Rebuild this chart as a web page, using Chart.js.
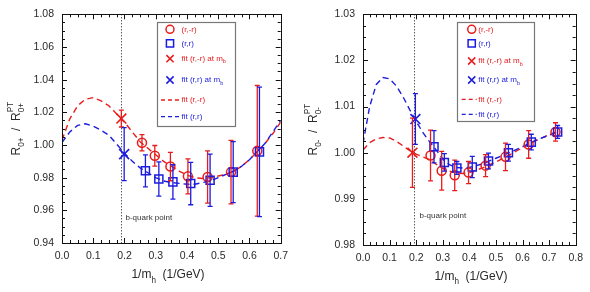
<!DOCTYPE html>
<html><head><meta charset="utf-8">
<script src="https://cdn.jsdelivr.net/npm/chart.js@4"></script>
<style>
html,body{margin:0;padding:0;background:#fff;}
#wrap{position:relative;width:590px;height:292px;overflow:hidden;}
.c{position:absolute;top:0;width:295px;height:292px;}
</style></head><body>
<div id="wrap">
<div class="c" style="left:0"><canvas id="cL" width="295" height="292"></canvas></div>
<div class="c" style="left:295px"><canvas id="cR" width="295" height="292"></canvas></div>
</div>
<script>
// ---------- data: left panel (0+) ----------
const bQuarkX = 0.19;
const leftCircX = [0.256, 0.297, 0.347, 0.403, 0.466, 0.541, 0.625];
const leftCircY = [1.0014, 0.9934, 0.9868, 0.9808, 0.9804, 0.9834, 0.9964];
const leftCircE = [0.0050, 0.0063, 0.0087, 0.0107, 0.0160, 0.0194, 0.0400];
const leftSqX = [0.267, 0.310, 0.355, 0.412, 0.474, 0.548, 0.632];
const leftSqY = [0.9842, 0.9792, 0.9774, 0.9764, 0.9784, 0.9834, 0.9958];
const leftSqE = [0.0098, 0.0105, 0.0105, 0.0130, 0.0160, 0.0187, 0.0396];
const leftFitRedAtMb = [0.190, 1.0162, 0.0052];
const leftFitBlueAtMb = [0.199, 0.9944, 0.0162];
const leftFitX = [0, 0.025, 0.05, 0.075, 0.1, 0.125, 0.15, 0.175, 0.2, 0.225, 0.25, 0.275, 0.3, 0.325, 0.35, 0.375, 0.4, 0.425, 0.45, 0.475, 0.5, 0.525, 0.55, 0.575, 0.6, 0.625, 0.65, 0.675, 0.7];
const leftFitRedY = [1.003, 1.016, 1.024, 1.028, 1.029, 1.027, 1.024, 1.019, 1.014, 1.008, 1.002, 0.998, 0.994, 0.990, 0.987, 0.984, 0.9815, 0.980, 0.9795, 0.980, 0.981, 0.982, 0.984, 0.987, 0.991, 0.996, 1.001, 1.007, 1.014];
const leftFitBlueY = [1.0015, 1.008, 1.012, 1.013, 1.0115, 1.009, 1.006, 1.0005, 0.995, 0.990, 0.986, 0.983, 0.980, 0.978, 0.977, 0.9765, 0.976, 0.976, 0.977, 0.978, 0.980, 0.982, 0.984, 0.987, 0.991, 0.996, 1.001, 1.008, 1.015];
const leftXTicks = [0, 0.1, 0.2, 0.3, 0.4, 0.5, 0.6, 0.7];
const leftXLabels = ['0.0', '0.1', '0.2', '0.3', '0.4', '0.5', '0.6', '0.7'];
const leftYTicks = [0.94, 0.96, 0.98, 1.00, 1.02, 1.04, 1.06, 1.08];
const leftYLabels = ['0.94', '0.96', '0.98', '1.00', '1.02', '1.04', '1.06', '1.08'];

// ---------- data: right panel (0-) ----------
const rightCircX = [0.254, 0.296, 0.345, 0.397, 0.461, 0.536, 0.623, 0.724];
const rightCircY = [0.9994, 0.9961, 0.9951, 0.9957, 0.9972, 0.9991, 1.0018, 1.0045];
const rightCircE = [0.0055, 0.0042, 0.0033, 0.0024, 0.0024, 0.0030, 0.0030, 0.0020];
const rightSqX = [0.267, 0.306, 0.353, 0.411, 0.472, 0.547, 0.633, 0.732];
const rightSqY = [1.0013, 0.9979, 0.9967, 0.9969, 0.9982, 1.0000, 1.0023, 1.0045];
const rightSqE = [0.0035, 0.0019, 0.0014, 0.0023, 0.0017, 0.0018, 0.0017, 0.0014];
const rightFitRedAtMb = [0.186, 1.0000, 0.0075];
const rightFitBlueAtMb = [0.197, 1.0073, 0.0055];
const rightFitX = [0, 0.025, 0.05, 0.075, 0.1, 0.125, 0.15, 0.175, 0.2, 0.225, 0.25, 0.275, 0.3, 0.325, 0.35, 0.375, 0.4, 0.45, 0.5, 0.55, 0.6, 0.65, 0.7, 0.735];
const rightFitRedY = [1.0006, 1.0022, 1.0030, 1.0033, 1.0032, 1.0025, 1.0015, 1.0005, 0.9997, 0.9991, 0.9985, 0.9975, 0.9966, 0.9960, 0.9956, 0.9955, 0.9957, 0.9967, 0.9980, 0.9995, 1.0011, 1.0026, 1.0039, 1.0047];
const rightFitBlueY = [1.0020, 1.0100, 1.0148, 1.0163, 1.0160, 1.0145, 1.0122, 1.0094, 1.0068, 1.0044, 1.0024, 1.0006, 0.9986, 0.9974, 0.9968, 0.9967, 0.9968, 0.9976, 0.9988, 1.0000, 1.0013, 1.0027, 1.0038, 1.0046];
const rightXTicks = [0, 0.1, 0.2, 0.3, 0.4, 0.5, 0.6, 0.7, 0.8];
const rightXLabels = ['0.0', '0.1', '0.2', '0.3', '0.4', '0.5', '0.6', '0.7', '0.8'];
const rightYTicks = [0.98, 0.99, 1.00, 1.01, 1.02, 1.03];
const rightYLabels = ['0.98', '0.99', '1.00', '1.01', '1.02', '1.03'];

const legendTexts = ['(r,-r)', '(r,r)', 'fit (r,-r) at m', 'fit (r,r) at m', 'fit (r,-r)', 'fit (r,r)'];

// ---------- styling ----------
const RED = 'rgb(232,28,28)';
const BLUE = 'rgb(28,28,222)';
const FONT = '"Liberation Sans", Arial, Helvetica, sans-serif';
const TXT = '#2a2a2a';

function pts(xs, ys) { return xs.map((x, i) => ({ x: x, y: ys[i] })); }

function drawMarker(ctx, style, x, y, r, color) {
  ctx.save();
  ctx.strokeStyle = color; ctx.lineWidth = 1.5; ctx.setLineDash([]);
  ctx.beginPath();
  if (style === 'circle') { ctx.arc(x, y, r, 0, Math.PI * 2); }
  else if (style === 'rect') { ctx.rect(x - r, y - r, 2 * r, 2 * r); }
  else { ctx.moveTo(x - r, y - r); ctx.lineTo(x + r, y + r); ctx.moveTo(x - r, y + r); ctx.lineTo(x + r, y - r); }
  ctx.stroke();
  ctx.restore();
}

// parts: [text, mode] mode 0 normal, -1 subscript, 1 superscript, 2 superscript stacked over previous subscript
function drawRich(ctx, parts, x, y, size, align) {
  const sub = size * 0.68;
  const fontOf = p => (p[1] ? sub : size) + 'px ' + FONT;
  const widths = parts.map(p => { ctx.font = fontOf(p); return ctx.measureText(p[0]).width; });
  let w = 0, prevStart = 0, prevW = 0;
  parts.forEach((p, i) => {
    if (p[1] === 2) { w = Math.max(w, prevStart + widths[i]); }
    else { prevStart = w; prevW = widths[i]; w += widths[i]; }
  });
  let cx = align === 'center' ? x - w / 2 : x;
  let lastStart = cx;
  parts.forEach((p, i) => {
    ctx.font = fontOf(p);
    if (p[1] === 2) {
      ctx.fillText(p[0], lastStart, y - size * 0.55);
    } else {
      const dy = p[1] === -1 ? size * 0.38 : (p[1] === 1 ? -size * 0.55 : 0);
      ctx.fillText(p[0], cx, y + dy);
      lastStart = cx;
      cx += widths[i];
    }
  });
}

function makePanel(id, P) {
  const errorSets = [
    { xs: P.circX, ys: P.circY, es: P.circE, color: RED },
    { xs: P.sqX, ys: P.sqY, es: P.sqE, color: BLUE },
    { xs: [P.redMb[0]], ys: [P.redMb[1]], es: [P.redMb[2]], color: RED },
    { xs: [P.blueMb[0]], ys: [P.blueMb[1]], es: [P.blueMb[2]], color: BLUE }
  ];
  const plugin = {
    id: 'deco',
    beforeDatasetsDraw(chart) {
      const ctx = chart.ctx, a = chart.chartArea, xs = chart.scales.x;
      ctx.save();
      ctx.strokeStyle = '#111'; ctx.lineWidth = 1; ctx.setLineDash([1, 2]);
      const px = Math.round(xs.getPixelForValue(bQuarkX)) + 0.5;
      ctx.beginPath(); ctx.moveTo(px, a.top); ctx.lineTo(px, a.bottom); ctx.stroke();
      ctx.restore();
      ctx.save();
      ctx.fillStyle = '#333'; ctx.font = '8px ' + FONT; ctx.textBaseline = 'middle';
      ctx.fillText('b-quark point', px + P.bqDx, P.bqY);
      ctx.restore();
    },
    afterDatasetsDraw(chart) {
      const ctx = chart.ctx, xs = chart.scales.x, ys = chart.scales.y;
      ctx.save();
      ctx.lineWidth = 1.3; ctx.setLineDash([]);
      errorSets.forEach(s => {
        ctx.strokeStyle = s.color;
        s.xs.forEach((x, i) => {
          const px = xs.getPixelForValue(x);
          const y1 = ys.getPixelForValue(s.ys[i] + s.es[i]);
          const y2 = ys.getPixelForValue(s.ys[i] - s.es[i]);
          ctx.beginPath();
          ctx.moveTo(px, y1); ctx.lineTo(px, y2);
          ctx.moveTo(px - 2.5, y1); ctx.lineTo(px + 2.5, y1);
          ctx.moveTo(px - 2.5, y2); ctx.lineTo(px + 2.5, y2);
          ctx.stroke();
        });
      });
      ctx.restore();
    },
    afterDraw(chart) {
      const ctx = chart.ctx, a = chart.chartArea, xs = chart.scales.x, ys = chart.scales.y;
      ctx.save();
      ctx.strokeStyle = '#111'; ctx.lineWidth = 1; ctx.setLineDash([]);
      ctx.strokeRect(Math.round(a.left) + 0.5, Math.round(a.top) + 0.5, Math.round(a.right - a.left), Math.round(a.bottom - a.top));
      ctx.beginPath();
      const nx = Math.round((P.xMax - P.xMin) / P.xMinor);
      for (let i = 0; i <= nx; i++) {
        const v = P.xMin + i * P.xMinor;
        const major = Math.abs(v / P.xMajor - Math.round(v / P.xMajor)) < 1e-6;
        const L = major ? 5 : 3;
        const px = Math.round(xs.getPixelForValue(v)) + 0.5;
        ctx.moveTo(px, a.bottom); ctx.lineTo(px, a.bottom - L);
        ctx.moveTo(px, a.top); ctx.lineTo(px, a.top + L);
      }
      const ny = Math.round((P.yMax - P.yMin) / P.yMinor);
      for (let i = 0; i <= ny; i++) {
        const v = P.yMin + i * P.yMinor;
        const major = Math.abs((v - P.yMin) / P.yMajor - Math.round((v - P.yMin) / P.yMajor)) < 1e-6;
        const L = major ? 5 : 3;
        const py = Math.round(ys.getPixelForValue(v)) + 0.5;
        ctx.moveTo(a.left, py); ctx.lineTo(a.left + L, py);
        ctx.moveTo(a.right, py); ctx.lineTo(a.right - L, py);
      }
      ctx.stroke();
      // legend
      const L = P.leg;
      ctx.fillStyle = '#fff'; ctx.fillRect(L.x0, L.y0, L.x1 - L.x0, L.y1 - L.y0);
      ctx.strokeStyle = '#777'; ctx.lineWidth = 1.2;
      ctx.strokeRect(L.x0 + 0.5, L.y0 + 0.5, L.x1 - L.x0, L.y1 - L.y0);
      const cols = [RED, BLUE, RED, BLUE, RED, BLUE];
      const styles = ['circle', 'rect', 'cross', 'cross', 'line', 'line'];
      ctx.textBaseline = 'middle';
      legendTexts.forEach((t, i) => {
        const y = L.rows[i];
        if (styles[i] === 'line') {
          ctx.save(); ctx.strokeStyle = cols[i]; ctx.lineWidth = 1.3; ctx.setLineDash([4, 3]);
          ctx.beginPath(); ctx.moveTo(L.lx0, y); ctx.lineTo(L.lx1, y); ctx.stroke(); ctx.restore();
        } else {
          drawMarker(ctx, styles[i], L.mx, y, styles[i] === 'circle' ? 4 : 3.6, cols[i]);
        }
        ctx.fillStyle = cols[i];
        if (i === 2 || i === 3) drawRich(ctx, [[t, 0], ['b', -1]], L.tx, y, 8, 'left');
        else { ctx.font = '8px ' + FONT; ctx.fillText(t, L.tx, y); }
      });
      // axis titles
      ctx.fillStyle = TXT; ctx.textBaseline = 'alphabetic';
      drawRich(ctx, [['1/m', 0], ['h', -1], ['  (1/GeV)', 0]], P.xtX, P.xtY, 12, 'center');
      ctx.save();
      ctx.translate(P.ytX, (a.top + a.bottom) / 2);
      ctx.rotate(-Math.PI / 2);
      drawRich(ctx, P.ytParts, 0, 0, 12, 'center');
      ctx.restore();
      ctx.restore();
    }
  };

  const tickFont = { family: FONT, size: 10.5 };
  return new Chart(document.getElementById(id), {
    type: 'scatter',
    data: {
      datasets: [
        { data: pts(P.fitX, P.fitRed), showLine: true, borderColor: RED, borderWidth: 1.4, borderDash: [6, 4], pointRadius: 0, order: 10, tension: 0 },
        { data: pts(P.fitX, P.fitBlue), showLine: true, borderColor: BLUE, borderWidth: 1.4, borderDash: [6, 4], pointRadius: 0, order: 9, tension: 0 },
        { data: pts(P.circX, P.circY), pointStyle: 'circle', pointRadius: 4.5, borderColor: RED, backgroundColor: 'rgba(0,0,0,0)', pointBorderWidth: 1.5, order: 2 },
        { data: pts(P.sqX, P.sqY), pointStyle: 'rect', pointRadius: 5.7, borderColor: BLUE, backgroundColor: 'rgba(0,0,0,0)', pointBorderWidth: 1.5, order: 1 },
        { data: [{ x: P.redMb[0], y: P.redMb[1] }], pointStyle: 'crossRot', pointRadius: 7, borderColor: RED, pointBorderWidth: 1.6, order: 3 },
        { data: [{ x: P.blueMb[0], y: P.blueMb[1] }], pointStyle: 'crossRot', pointRadius: 7, borderColor: BLUE, pointBorderWidth: 1.6, order: 3 }
      ]
    },
    options: {
      responsive: false, animation: false, events: [],
      layout: { padding: { left: 0, right: P.padR, top: P.padT, bottom: 0 } },
      plugins: { legend: { display: false }, tooltip: { enabled: false } },
      scales: {
        x: {
          type: 'linear', min: P.xMin, max: P.xMax,
          afterBuildTicks: s => { s.ticks = P.xTicks.map(v => ({ value: v })); },
          afterFit: s => { s.height = P.xH; },
          ticks: { callback: (v, i) => P.xLabels[i], font: tickFont, color: TXT, padding: 7, maxRotation: 0, autoSkip: false },
          grid: { display: false, drawTicks: false }, border: { display: false }
        },
        y: {
          type: 'linear', min: P.yMin, max: P.yMax,
          afterBuildTicks: s => { s.ticks = P.yTicks.map(v => ({ value: v })); },
          afterFit: s => { s.width = P.yW; },
          ticks: { callback: (v, i) => P.yLabels[i], font: tickFont, color: TXT, padding: 8, autoSkip: false },
          grid: { display: false, drawTicks: false }, border: { display: false }
        }
      }
    },
    plugins: [plugin]
  });
}

makePanel('cL', {
  circX: leftCircX, circY: leftCircY, circE: leftCircE,
  sqX: leftSqX, sqY: leftSqY, sqE: leftSqE,
  redMb: leftFitRedAtMb, blueMb: leftFitBlueAtMb,
  fitX: leftFitX, fitRed: leftFitRedY, fitBlue: leftFitBlueY,
  xMin: 0, xMax: 0.7, xMajor: 0.1, xMinor: 0.025,
  yMin: 0.94, yMax: 1.08, yMajor: 0.02, yMinor: 0.005,
  xTicks: leftXTicks, xLabels: leftXLabels, yTicks: leftYTicks, yLabels: leftYLabels,
  padR: 14, padT: 11, xH: 49, yW: 62,
  bqDx: 4, bqY: 218,
  leg: { x0: 157, y0: 22, x1: 235, y1: 126, mx: 170, tx: 181.5, lx0: 161, lx1: 180, rows: [29.3, 43.3, 58.7, 80, 100, 116.7] },
  xtX: 168, xtY: 278,
  ytX: 19.5, ytParts: [['R', 0], ['0+', -1], ['  /  ', 0], ['R', 0], ['0+', -1], ['PT', 2]]
});

makePanel('cR', {
  circX: rightCircX, circY: rightCircY, circE: rightCircE,
  sqX: rightSqX, sqY: rightSqY, sqE: rightSqE,
  redMb: rightFitRedAtMb, blueMb: rightFitBlueAtMb,
  fitX: rightFitX, fitRed: rightFitRedY, fitBlue: rightFitBlueY,
  xMin: 0, xMax: 0.8, xMajor: 0.1, xMinor: 0.025,
  yMin: 0.98, yMax: 1.03, yMajor: 0.01, yMinor: 0.0025,
  xTicks: rightXTicks, xLabels: rightXLabels, yTicks: rightYTicks, yLabels: rightYLabels,
  padR: 12, padT: 10, xH: 47, yW: 68,
  bqDx: 5, bqY: 216,
  leg: { x0: 162, y0: 22, x1: 239, y1: 121, mx: 176.7, tx: 183.3, lx0: 166.7, lx1: 181.7, rows: [29.3, 43.3, 61, 80, 99.3, 114.3] },
  xtX: 176, xtY: 279.5,
  ytX: 21.5, ytParts: [['R', 0], ['0-', -1], ['  /  ', 0], ['R', 0], ['0-', -1], ['PT', 2]]
});
</script>
</body></html>
